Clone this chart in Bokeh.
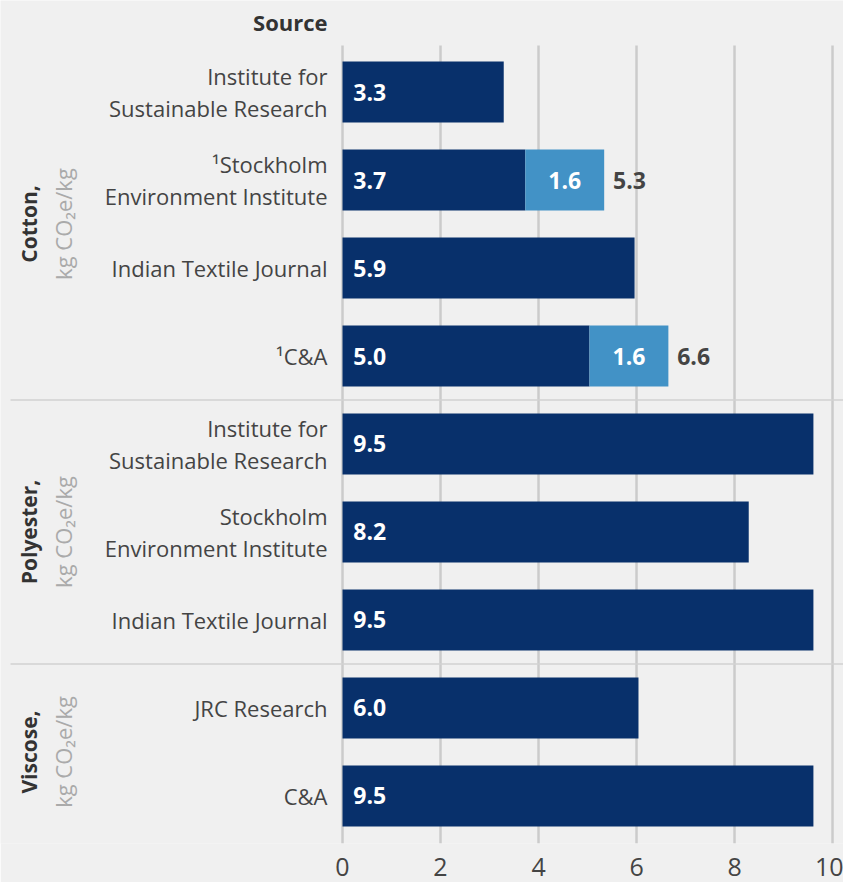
import numpy as np
from bokeh.plotting import figure
from bokeh.models import Range1d, FixedTicker
from bokeh.core.properties import value
from bokeh.embed import file_html
from bokeh.resources import INLINE

# ---- data ----
sources = ["Institute for\nSustainable Research", "\u00b9Stockholm\nEnvironment Institute",
           "Indian Textile Journal", "\u00b9C&A",
           "Institute for\nSustainable Research", "Stockholm\nEnvironment Institute",
           "Indian Textile Journal",
           "JRC Research", "C&A"]
groups = ["Cotton,", "Polyester,", "Viscose,"]
group_sizes = [4, 3, 2]
unit_label = "kg CO\u2082e/kg"
base_values = [3.29, 3.73, 5.96, 5.04, 9.61, 8.29, 9.61, 6.04, 9.61]
base_labels = ["3.3", "3.7", "5.9", "5.0", "9.5", "8.2", "9.5", "6.0", "9.5"]
extra_values = [0, 1.61, 0, 1.61, 0, 0, 0, 0, 0]
extra_labels = ["", "1.6", "", "1.6", "", "", "", "", ""]
total_labels = ["", "5.3", "", "6.6", "", "", "", "", ""]
ticks = [0, 2, 4, 6, 8, 10]

# ---- style ----
NAVY = "#08306b"
LIGHT = "#4292c6"
BG = "#f0f0f0"
FONT = "Open Sans"

rows = np.arange(len(sources))
base = np.array(base_values)
extra = np.array(extra_values)

p = figure(width=843, height=882, x_range=Range1d(-6.980, 10.224),
           y_range=Range1d(8.540, -1.040), output_backend="svg",
           toolbar_location=None, y_axis_location=None,
           min_border_left=0, min_border_right=0, min_border_top=0,
           min_border_bottom=39)
p.background_fill_color = BG
p.border_fill_color = BG
p.outline_line_color = None
p.xgrid.visible = False
p.ygrid.visible = False

ax = p.xaxis[0]
ax.ticker = FixedTicker(ticks=ticks)
ax.axis_line_color = None
ax.major_tick_line_color = None
ax.minor_tick_line_color = None
ax.major_label_text_font = FONT
ax.major_label_text_font_size = "25px"
ax.major_label_text_color = "#444444"
ax.major_label_standoff = 8

# vertical gridlines
grid_top = -0.528
grid_bottom = 8.54
p.segment(x0=ticks, x1=ticks, y0=[grid_top] * len(ticks), y1=[grid_bottom] * len(ticks),
          line_color="#cbcbcb", line_width=2.5)

# group separators
bounds = np.cumsum(group_sizes)[:-1] - 0.5
p.segment(x0=[-6.776] * len(bounds), x1=[10.224] * len(bounds), y0=bounds, y1=bounds,
          line_color="#d2d2d2", line_width=1.5)

# bars
p.hbar(y=rows, left=0, right=base, height=0.693, fill_color=NAVY, line_color=None)
m = extra > 0
p.hbar(y=rows[m], left=base[m], right=(base + extra)[m], height=0.693,
       fill_color=LIGHT, line_color=None)

# value labels
p.text(x=[0.22] * len(rows), y=rows, text=base_labels, text_color="white",
       text_font=value(FONT), text_font_style="bold", text_font_size=value("23px"),
       text_align="left", text_baseline="middle")
p.text(x=(base + extra / 2)[m], y=rows[m], text=[extra_labels[i] for i in rows[m]],
       text_color="white", text_font=value(FONT), text_font_style="bold",
       text_font_size=value("23px"), text_align="center", text_baseline="middle")
p.text(x=(base + extra)[m] + 0.18, y=rows[m], text=[total_labels[i] for i in rows[m]],
       text_color="#444444", text_font=value(FONT), text_font_style="bold",
       text_font_size=value("23px"), text_align="left", text_baseline="middle")

# source labels
p.text(x=[-0.306] * len(rows), y=rows, text=sources, text_color="#444444",
       text_font=value(FONT), text_font_size=value("22px"), text_align="right",
       text_baseline="middle", text_line_height=1.07)
p.text(x=[-0.306], y=[-0.79], text=["Source"], text_color="#333333",
       text_font=value(FONT), text_font_style="bold", text_font_size=value("22px"),
       text_align="right", text_baseline="middle")

# group labels (rotated)
starts = np.concatenate([[0], np.cumsum(group_sizes)[:-1]])
centers = starts + (np.array(group_sizes) - 1) / 2
p.text(x=[-6.408] * len(groups), y=centers, text=groups, angle=np.pi / 2,
       text_color="#333333", text_font=value(FONT), text_font_style="bold",
       text_font_size=value("21px"), text_align="center", text_baseline="middle")
p.text(x=[-5.714] * len(groups), y=centers, text=[unit_label] * len(groups), angle=np.pi / 2,
       text_color="#aaaaaa", text_font=value(FONT), text_font_size=value("22px"),
       text_align="center", text_baseline="middle")

open("out.html", "w").write(file_html(p, INLINE))
